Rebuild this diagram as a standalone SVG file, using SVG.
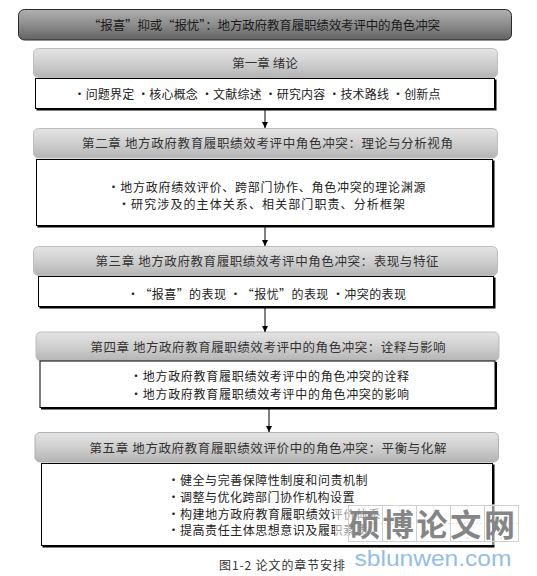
<svg xmlns="http://www.w3.org/2000/svg" width="537" height="576" viewBox="0 0 537 576">
<defs>
<linearGradient id="gTitle" x1="0" y1="0" x2="0" y2="1">
<stop offset="0" stop-color="#b0b0b0"/><stop offset="0.5" stop-color="#8c8c8c"/><stop offset="1" stop-color="#626262"/>
</linearGradient>
<linearGradient id="gHead" x1="0" y1="0" x2="0" y2="1">
<stop offset="0" stop-color="#e4e4e4"/><stop offset="0.5" stop-color="#cfcfcf"/><stop offset="1" stop-color="#b4b4b4"/>
</linearGradient>
<marker id="arr" viewBox="0 0 10 10" refX="10" refY="5" markerWidth="6" markerHeight="6" orient="auto" markerUnits="userSpaceOnUse">
<path d="M0,0 L10,5 L0,10 Z" fill="#000"/>
</marker>
</defs>
<style>
text{font-family:"Noto Sans CJK SC","Liberation Serif",serif;text-anchor:middle;}
.title{font-size:12.5px;fill:#1a1a1a;}
.hd{font-size:12.5px;fill:#333;}
.bd{font-size:12px;fill:#222;}
.head{fill:url(#gHead);stroke:#bdbdbd;stroke-width:1;}
.box{fill:#fff;stroke:#000;stroke-width:1;}
.sh{fill:#000;}
.conn{stroke:#000;stroke-width:1;fill:none;marker-end:url(#arr);}
.lt{text-anchor:start;}
</style>
<rect width="537" height="576" fill="#fff"/>

<g id="title">
<rect x="18.5" y="9.5" width="493" height="30.5" rx="6" fill="url(#gTitle)" stroke="#2a2a2a"/>
<text class="title" x="264" y="29.5" textLength="352" lengthAdjust="spacing">“报喜”抑或“报忧”：地方政府教育履职绩效考评中的角色冲突</text>
</g>

<g id="ch1">
<rect class="head" x="33.5" y="48.5" width="464" height="29" rx="5"/>
<text class="hd" x="265" y="67.5">第一章  绪论</text>
<rect class="sh" x="36.5" y="79.5" width="460" height="31"/>
<rect class="box" x="35.5" y="78.5" width="459" height="30"/>
<text class="bd" x="257" y="98.5" textLength="367" lengthAdjust="spacing">•问题界定 •核心概念 •文献综述 •研究内容 •技术路线 •创新点</text>
</g>

<g id="ch2">
<rect class="head" x="33.5" y="128.5" width="464" height="29.5" rx="5"/>
<text class="hd" x="267.5" y="147.5" textLength="371" lengthAdjust="spacing">第二章  地方政府教育履职绩效考评中角色冲突：理论与分析视角</text>
<rect class="sh" x="37.5" y="160.5" width="457" height="67"/>
<rect class="box" x="36.5" y="159.5" width="456" height="66"/>
<text class="bd" x="266.5" y="192" textLength="318" lengthAdjust="spacing">•地方政府绩效评价、跨部门协作、角色冲突的理论渊源</text>
<text class="bd" x="261.5" y="208.5" textLength="287" lengthAdjust="spacing">•研究涉及的主体关系、相关部门职责、分析框架</text>
</g>

<g id="ch3">
<rect class="head" x="33.5" y="246.5" width="464" height="29" rx="5"/>
<text class="hd" x="267" y="265.5" textLength="343" lengthAdjust="spacing">第三章  地方政府教育履职绩效考评中角色冲突：表现与特征</text>
<rect class="sh" x="39.5" y="277.5" width="456" height="31"/>
<rect class="box" x="38.5" y="276.5" width="455" height="30"/>
<text class="bd" x="266.5" y="298.5" textLength="279" lengthAdjust="spacing">•“报喜”的表现  •“报忧”的表现  •冲突的表现</text>
</g>

<g id="ch4">
<rect class="head" x="36" y="332" width="463" height="29" rx="5"/>
<text class="hd" x="268" y="352" textLength="355" lengthAdjust="spacing">第四章  地方政府教育履职绩效考评中的角色冲突：诠释与影响</text>
<rect class="sh" x="41" y="362" width="456" height="47.5"/>
<rect class="box" x="40" y="361" width="455" height="46.5"/>
<text class="bd" x="269.5" y="381" textLength="279" lengthAdjust="spacing">•地方政府教育履职绩效考评中的角色冲突的诠释</text>
<text class="bd" x="269.5" y="398.5" textLength="279" lengthAdjust="spacing">•地方政府教育履职绩效考评中的角色冲突的影响</text>
</g>

<g id="ch5">
<rect class="head" x="35" y="432.5" width="463.5" height="29.5" rx="5" style="stroke:#b0b0b0"/>
<text class="hd" x="268" y="452.5" textLength="357" lengthAdjust="spacing">第五章  地方政府教育履职绩效评价中的角色冲突：平衡与化解</text>
<rect class="sh" x="42.5" y="464.5" width="452" height="83"/>
<rect class="box" x="41.5" y="463.5" width="451" height="82"/>
<text class="bd lt" x="167.5" y="484.5" textLength="200" lengthAdjust="spacing">•健全与完善保障性制度和问责机制</text>
<text class="bd lt" x="167.5" y="502" textLength="187" lengthAdjust="spacing">•调整与优化跨部门协作机构设置</text>
<text class="bd lt" x="167.5" y="519" textLength="213" lengthAdjust="spacing">•构建地方政府教育履职绩效评价体系</text>
<text class="bd lt" x="167.5" y="535" textLength="200" lengthAdjust="spacing">•提高责任主体思想意识及履职素质</text>
</g>

<g id="connectors">
<line class="conn" x1="265" y1="110" x2="265" y2="128"/>
<line class="conn" x1="265" y1="227" x2="265" y2="246"/>
<line class="conn" x1="265" y1="308" x2="265" y2="332"/>
<line class="conn" x1="269" y1="409" x2="269" y2="432"/>
</g>

<g id="caption">
<text class="bd" x="282" y="570" textLength="126" lengthAdjust="spacing" style="fill:#333">图1-2  论文的章节安排</text>
</g>

<g id="watermark">
<rect x="335" y="504" width="186" height="41" fill="#fff" opacity="0.55"/>
<g fill="none" stroke="#cfcfcf" stroke-width="1">
<rect x="348.5" y="505.5" width="34" height="36"/>
<rect x="382.5" y="505.5" width="34" height="36"/>
<rect x="416.5" y="505.5" width="34" height="36"/>
<rect x="450.5" y="505.5" width="34" height="36"/>
<rect x="484.5" y="505.5" width="34" height="36"/>
</g>
<g stroke="#dcdcdc" stroke-width="0.8" stroke-dasharray="2,2">
<line x1="348" y1="523.5" x2="519" y2="523.5"/>
<line x1="365.5" y1="505" x2="365.5" y2="542"/>
<line x1="399.5" y1="505" x2="399.5" y2="542"/>
<line x1="433.5" y1="505" x2="433.5" y2="542"/>
<line x1="467.5" y1="505" x2="467.5" y2="542"/>
<line x1="501.5" y1="505" x2="501.5" y2="542"/>
</g>
<text x="432" y="536" style="font-size:31px;font-weight:bold;fill:#858585" textLength="166" lengthAdjust="spacing">硕博论文网</text>
<text x="433" y="566" style="font-family:'Liberation Sans',sans-serif;font-size:22px;fill:#93bdea" textLength="157" lengthAdjust="spacingAndGlyphs">sblunwen.com</text>
</g>
</svg>
